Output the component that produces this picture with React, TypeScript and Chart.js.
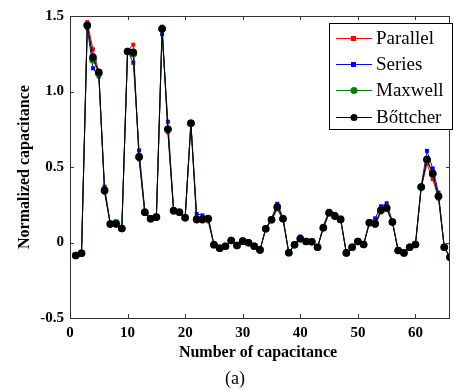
import React, { useEffect, useRef } from "react";
import { Chart, registerables } from "chart.js";

Chart.register(...registerables);

const capIndex: number[] = Array.from({ length: 66 }, (_, i) => i + 1);

const bottcher: number[] = [
  -0.086, -0.071, 1.437, 1.227, 1.127, 0.345, 0.122, 0.122, 0.093, 1.265,
  1.26, 0.567, 0.2, 0.157, 0.168, 1.415, 0.75, 0.21, 0.2, 0.164,
  0.79, 0.153, 0.153, 0.157, -0.015, -0.038, -0.025, 0.013, -0.02, 0.009,
  -0.002, -0.025, -0.049, 0.091, 0.151, 0.235, 0.157, -0.068, -0.015, 0.025,
  0.007, 0.005, -0.031, 0.098, 0.197, 0.175, 0.153, -0.069, -0.031, 0.007,
  -0.013, 0.131, 0.124, 0.213, 0.228, 0.135, -0.053, -0.069, -0.031, -0.013,
  0.367, 0.55, 0.456, 0.306, -0.031, -0.098,
];

const parallel: number[] = [
  -0.086, -0.071, 1.46, 1.28, 1.13, 0.33, 0.12, 0.12, 0.09, 1.27,
  1.31, 0.55, 0.19, 0.15, 0.16, 1.43, 0.73, 0.2, 0.19, 0.16,
  0.79, 0.14, 0.14, 0.14, -0.015, -0.038, -0.025, 0.013, -0.02, 0.009,
  -0.002, -0.025, -0.049, 0.09, 0.145, 0.22, 0.15, -0.068, -0.015, 0.022,
  0.007, 0.005, -0.031, 0.095, 0.19, 0.165, 0.15, -0.069, -0.031, 0.007,
  -0.013, 0.125, 0.11, 0.2, 0.22, 0.13, -0.053, -0.069, -0.031, -0.013,
  0.36, 0.52, 0.42, 0.29, -0.031, -0.098,
];

const series: number[] = [
  -0.09, -0.071, 1.42, 1.154, 1.1, 0.37, 0.125, 0.125, 0.095, 1.27,
  1.19, 0.61, 0.21, 0.165, 0.175, 1.38, 0.8, 0.22, 0.21, 0.17,
  0.79, 0.19, 0.18, 0.17, -0.015, -0.038, -0.025, 0.015, -0.02, 0.01,
  -0.002, -0.025, -0.049, 0.095, 0.16, 0.257, 0.165, -0.068, -0.015, 0.04,
  0.01, 0.008, -0.031, 0.11, 0.21, 0.19, 0.16, -0.069, -0.031, 0.007,
  -0.013, 0.135, 0.16, 0.24, 0.26, 0.14, -0.053, -0.069, -0.031, -0.013,
  0.375, 0.607, 0.49, 0.33, -0.031, -0.098,
];

const maxwell: number[] = [
  -0.086, -0.071, 1.44, 1.21, 1.12, 0.345, 0.122, 0.13, 0.093, 1.265,
  1.25, 0.567, 0.2, 0.157, 0.168, 1.415, 0.75, 0.21, 0.2, 0.164,
  0.79, 0.153, 0.153, 0.157, -0.015, -0.038, -0.025, 0.013, -0.02, 0.009,
  -0.002, -0.025, -0.049, 0.091, 0.151, 0.235, 0.157, -0.068, -0.015, 0.025,
  0.007, 0.005, -0.031, 0.098, 0.197, 0.175, 0.153, -0.069, -0.031, 0.007,
  -0.013, 0.131, 0.124, 0.213, 0.228, 0.135, -0.053, -0.069, -0.031, -0.013,
  0.367, 0.55, 0.456, 0.306, -0.031, -0.098,
];

const seriesNames: string[] = ["Parallel", "Series", "Maxwell", "Bőttcher"];
const seriesColors: string[] = ["#ff0000", "#0000ff", "#008000", "#000000"];
const seriesShapes: string[] = ["rect", "rect", "circle", "circle"];

const xTitle = "Number of capacitance";
const yTitle = "Normalized capacitance";
const caption = "(a)";

const SERIF = "'Times New Roman', 'Liberation Serif', serif";

const frameAndLegend = {
  id: "frameAndLegend",
  afterDraw(chart: any) {
    const ctx = chart.ctx as CanvasRenderingContext2D;
    const { left, right, top, bottom } = chart.chartArea;
    const xs = chart.scales.x;
    const ys = chart.scales.y;
    ctx.save();
    ctx.strokeStyle = "#333";
    ctx.lineWidth = 1;
    ctx.strokeRect(left + 0.5, top + 0.5, right - left - 1, bottom - top);
    const tl = 4;
    ctx.beginPath();
    xs.ticks.forEach((t: any) => {
      const px = Math.round(xs.getPixelForValue(t.value)) + 0.5;
      ctx.moveTo(px, bottom);
      ctx.lineTo(px, bottom - tl);
      ctx.moveTo(px, top);
      ctx.lineTo(px, top + tl);
    });
    ys.ticks.forEach((t: any) => {
      const py = Math.round(ys.getPixelForValue(t.value)) + 0.5;
      ctx.moveTo(left, py);
      ctx.lineTo(left + tl, py);
      ctx.moveTo(right, py);
      ctx.lineTo(right - tl, py);
    });
    ctx.stroke();

    ctx.fillStyle = "#000";
    ctx.font = "bold 16px " + SERIF;
    ctx.textAlign = "center";
    ctx.textBaseline = "middle";
    ctx.fillText(xTitle, (left + right) / 2 - 2, 353);
    ctx.font = "18px " + SERIF;
    ctx.fillText(caption, 235, 379);
    ctx.save();
    ctx.translate(25, (top + bottom) / 2);
    ctx.rotate(-Math.PI / 2);
    ctx.font = "bold 16px " + SERIF;
    ctx.fillText(yTitle, 0, 0);
    ctx.restore();

    const bx = 329, by = 23, bw = 124, bh = 107;
    ctx.fillStyle = "#fff";
    ctx.fillRect(bx, by, bw, bh);
    ctx.strokeStyle = "#000";
    ctx.strokeRect(bx + 0.5, by + 0.5, bw - 1, bh - 1);
    const rows = [38, 64, 90, 117];
    seriesNames.forEach((name, i) => {
      const y = rows[i];
      ctx.strokeStyle = seriesColors[i];
      ctx.beginPath();
      ctx.moveTo(336, y + 0.5);
      ctx.lineTo(372, y + 0.5);
      ctx.stroke();
      ctx.fillStyle = seriesColors[i];
      if (seriesShapes[i] === "rect") {
        ctx.fillRect(351, y - 2, 5, 5);
      } else {
        ctx.beginPath();
        ctx.arc(354, y + 0.5, 3.5, 0, Math.PI * 2);
        ctx.fill();
      }
      ctx.fillStyle = "#000";
      ctx.font = "19px " + SERIF;
      ctx.textAlign = "left";
      ctx.textBaseline = "middle";
      ctx.fillText(name, 376, y + 1);
    });
    ctx.restore();
  },
};

export default function App() {
  const ref = useRef<HTMLCanvasElement | null>(null);
  useEffect(() => {
    document.body.style.margin = "0";
    const values = [parallel, series, maxwell, bottcher];
    const chart = new Chart(ref.current as HTMLCanvasElement, {
      type: "line",
      data: {
        datasets: seriesNames.map((name, i) => ({
          label: name,
          data: capIndex.map((x, j) => ({ x, y: values[i][j] })),
          borderColor: seriesColors[i],
          backgroundColor: seriesColors[i],
          borderWidth: 1,
          pointStyle: seriesShapes[i] as any,
          pointRadius: seriesShapes[i] === "rect" ? 2.8 : 3.8,
          pointBorderWidth: 0,
          tension: 0,
          order: 3 - i,
        })),
      },
      options: {
        animation: false,
        responsive: false,
        layout: { padding: { top: 16, right: 1, left: 0, bottom: 0 } },
        plugins: { legend: { display: false }, tooltip: { enabled: false } },
        scales: {
          x: {
            type: "linear",
            min: 0,
            max: 66,
            afterFit: (s: any) => { s.height = 73; },
            afterBuildTicks: (s: any) => {
              s.ticks = [0, 10, 20, 30, 40, 50, 60].map((v) => ({ value: v }));
            },
            grid: { display: false, drawTicks: false },
            border: { display: false },
            ticks: {
              padding: 6,
              color: "#000",
              font: { family: SERIF, size: 15, weight: "bold" },
              maxRotation: 0,
            },
          },
          y: {
            type: "linear",
            min: -0.5,
            max: 1.5,
            afterFit: (s: any) => { s.width = 70; },
            ticks: {
              stepSize: 0.5,
              padding: 6,
              color: "#000",
              font: { family: SERIF, size: 15, weight: "bold" },
            },
            grid: { display: false, drawTicks: false },
            border: { display: false },
          },
        },
      },
      plugins: [frameAndLegend],
    });
    return () => chart.destroy();
  }, []);
  return <canvas ref={ref} width={454} height={391} style={{ display: "block" }} />;
}
